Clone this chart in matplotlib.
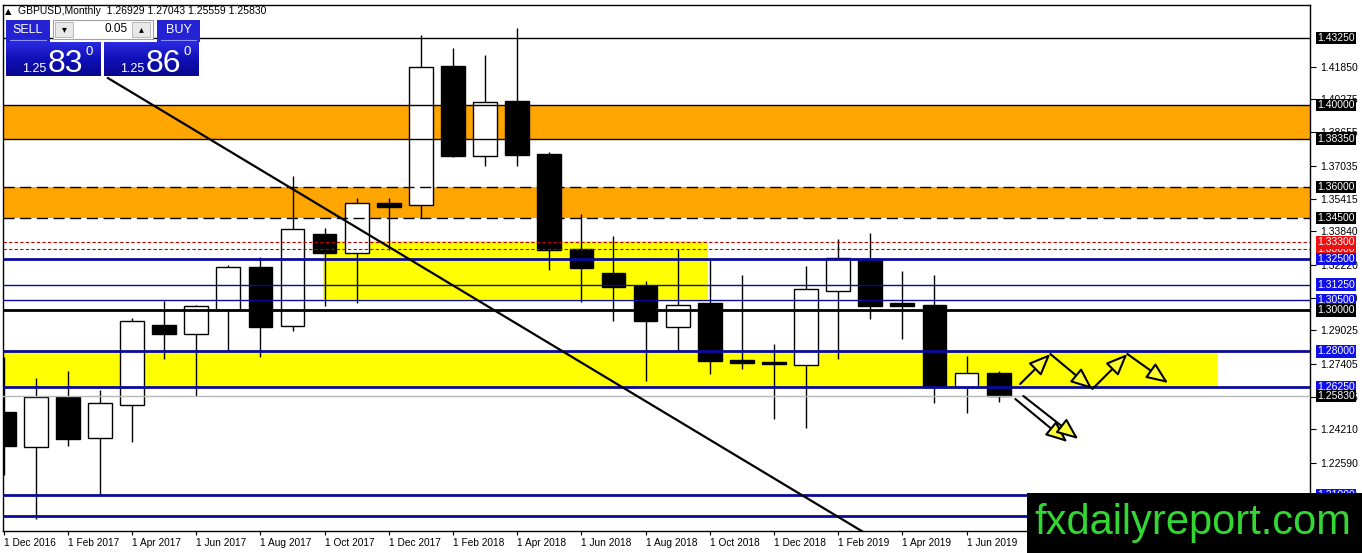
import matplotlib.pyplot as plt
import numpy as np
from matplotlib.patches import Rectangle
from matplotlib.colors import LinearSegmentedColormap

plt.rcParams['font.family'] = ['Liberation Sans', 'DejaVu Sans']

W, H = 1362, 553

# monthly GBPUSD candles, Dec 2016 .. Jul 2019
opens = [1.2505, 1.2335, 1.2578, 1.2378, 1.2539, 1.2928, 1.2885, 1.3000,
         1.3211, 1.2924, 1.3371, 1.3279, 1.3522, 1.3512, 1.4189, 1.3751,
         1.4018, 1.3761, 1.3298, 1.3181, 1.3118, 1.2919, 1.3036, 1.2758,
         1.2748, 1.2734, 1.3094, 1.3250, 1.3036, 1.3026, 1.2627, 1.26929]
highs = [1.2773, 1.2671, 1.2705, 1.2612, 1.2963, 1.3045, 1.3026, 1.3220,
         1.3259, 1.3653, 1.3400, 1.3546, 1.3546, 1.4340, 1.4276, 1.4242,
         1.4374, 1.3770, 1.3469, 1.3362, 1.3143, 1.3298, 1.3254, 1.3172,
         1.2836, 1.3216, 1.3347, 1.3376, 1.3191, 1.3172, 1.2778, 1.27043]
lows = [1.2199, 1.1984, 1.2340, 1.2101, 1.2359, 1.2763, 1.2583, 1.2802,
        1.2773, 1.2899, 1.3021, 1.3036, 1.3293, 1.3449, 1.3746, 1.3702,
        1.3702, 1.3196, 1.3040, 1.2948, 1.2656, 1.2802, 1.2690, 1.2714,
        1.2471, 1.2427, 1.2763, 1.2958, 1.2860, 1.2549, 1.2500, 1.25559]
closes = [1.2340, 1.2578, 1.2374, 1.2549, 1.2948, 1.2885, 1.3021, 1.3211,
          1.2919, 1.3396, 1.3279, 1.3522, 1.3503, 1.4184, 1.3751, 1.4014,
          1.3756, 1.3293, 1.3206, 1.3113, 1.2948, 1.3026, 1.2753, 1.2744,
          1.2739, 1.3104, 1.3254, 1.3021, 1.3021, 1.2627, 1.2695, 1.25830]

date_labels = ['1 Dec 2016', '1 Feb 2017', '1 Apr 2017', '1 Jun 2017', '1 Aug 2017',
               '1 Oct 2017', '1 Dec 2017', '1 Feb 2018', '1 Apr 2018', '1 Jun 2018',
               '1 Aug 2018', '1 Oct 2018', '1 Dec 2018', '1 Feb 2019', '1 Apr 2019',
               '1 Jun 2019']
price_ticks = [1.41850, 1.40275, 1.38655, 1.37035, 1.35415, 1.33840, 1.32220,
               1.30600, 1.29025, 1.27405, 1.25785, 1.24210, 1.22590, 1.20970]

# horizontal levels: (price, colour, width, style)
levels = [(1.4325, 'black', 1, '-'), (1.4000, 'black', 1, '-'), (1.3835, 'black', 1, '-'),
          (1.3600, 'black', 1, (0, (8, 4))), (1.3450, 'black', 1, (0, (8, 4))),
          (1.3330, '#c00000', 0.8, (0, (3, 2))), (1.3300, '#c00000', 0.8, (0, (3, 2))),
          (1.3250, '#0a0a9a', 2, '-'), (1.3125, '#0a0a9a', 1, '-'), (1.3050, '#0a0a9a', 1, '-'),
          (1.3000, 'black', 2, '-'), (1.2800, '#0a0a9a', 2, '-'), (1.2625, '#0a0a9a', 2, '-'),
          (1.2583, '#b8b8b8', 1, '-'), (1.2100, '#0a0a9a', 2, '-'), (1.2000, '#0a0a9a', 2, '-')]
# boxed price labels on the right, in drawing order
box_labels = [(1.4325, 'black'), (1.4000, 'black'), (1.3835, 'black'), (1.3600, 'black'),
              (1.3450, 'black'), (1.3300, '#ee1111'), (1.3330, '#ee1111'), (1.3250, '#1010e8'),
              (1.3125, '#1010e8'), (1.3050, '#1010e8'), (1.3000, 'black'), (1.2800, '#1010e8'),
              (1.2625, '#1010e8'), (1.2583, 'black'), (1.2100, '#1010e8')]
# zones: (x from, x to, price low, price high, colour)
zones = [(-1, 45, 1.3835, 1.4000, '#ffa500'), (-1, 45, 1.3450, 1.3600, '#ffa500'),
         (9.96, 21.95, 1.3053, 1.3338, '#ffff00'), (-1, 37.84, 1.2625, 1.2800, '#ffff00')]
trend_x = [3.25, 28.03]
trend_y = [1.4130, 1.1804]
zig_x = [31.67, 32.61, 33.92, 35.01, 36.28]
zig_y = [1.26413, 1.27873, 1.26170, 1.27873, 1.26462]
down_arrows = [((31.52, 1.25683), (33.14, 1.23591)), ((31.77, 1.25829), (33.48, 1.23737))]

fig = plt.figure(figsize=(W / 100, H / 100), dpi=100)
ax = fig.add_axes([3 / W, 22 / H, 1307 / W, 526 / H])
ax.set_xlim(-0.02, 40.7)
ax.set_ylim(1.19260, 1.44856)

for x0, x1, lo, hi, col in zones:
    ax.add_patch(Rectangle((x0, lo), x1 - x0, hi - lo, facecolor=col, edgecolor='none', zorder=1))

bw = 0.74
for i, (o, h, l, c) in enumerate(zip(opens, highs, lows, closes)):
    ax.vlines(i, l, h, color='black', lw=1, zorder=2)
    bot = min(o, c)
    ht = max(abs(c - o), 0.0004)
    fc = 'white' if c > o else 'black'
    ax.add_patch(Rectangle((i - bw / 2, bot), bw, ht, facecolor=fc, edgecolor='black',
                           lw=1, zorder=2.5))

for lev, col, lw, ls in levels:
    ax.axhline(lev, color=col, lw=lw, ls=ls, zorder=3)

ax.plot(trend_x, trend_y, color='black', lw=1.6, zorder=3.5)

arrow_kw = dict(arrowstyle='-|>,head_length=0.6,head_width=0.25', mutation_scale=22,
                fc='#ffff33', ec='black', lw=1.5, shrinkA=0, shrinkB=0)
for k in range(len(zig_x) - 1):
    ax.annotate('', xy=(zig_x[k + 1], zig_y[k + 1]), xytext=(zig_x[k], zig_y[k]),
                arrowprops=arrow_kw, zorder=4)
for start, end in down_arrows:
    ax.annotate('', xy=end, xytext=start, arrowprops=arrow_kw, zorder=4)

ax.yaxis.tick_right()
ax.set_yticks(price_ticks)
ax.set_yticklabels([f"{t:.5f}" for t in price_ticks])
ax.tick_params(axis='y', labelsize=7.5, length=4, pad=3, width=0.8)
ax.set_xticks(range(0, 31, 2))
ax.set_xticklabels(date_labels)
ax.tick_params(axis='x', labelsize=7.3, length=3, pad=2, width=0.8)
for lab in ax.get_xticklabels():
    lab.set_ha('left')
for sp in ax.spines.values():
    sp.set_linewidth(1)

tr = ax.get_yaxis_transform()
for lev, col in box_labels:
    ax.text(1.0055, lev, f"{lev:.5f}", transform=tr, ha='left', va='center', fontsize=7.5,
            color='white', clip_on=False, zorder=10,
            bbox=dict(boxstyle='square,pad=0.12', fc=col, ec='none'))

# overlay in pixel coords: trade panel, header and logo
ov = fig.add_axes([0, 0, 1, 1], zorder=5)
ov.patch.set_alpha(0)
ov.axis('off')

ov.text(18, 11, 'GBPUSD,Monthly  1.26929 1.27043 1.25559 1.25830', fontsize=7.5,
        ha='left', va='center')
ov.text(8, 12, '\u25b2', fontsize=6, ha='center', va='center', family='DejaVu Sans')

blue_cm = LinearSegmentedColormap.from_list('bl', ['#2a2ae0', '#1010b8', '#08088e'])
grad = np.linspace(0, 1, 40).reshape(-1, 1)
for x0, x1, txt in [(6, 50, 'SELL'), (157, 200, 'BUY')]:
    ov.add_patch(Rectangle((x0, 20), x1 - x0, 22, facecolor='#2323d4', edgecolor='none'))
    ov.text((x0 + x1) / 2, 30, txt, color='white', fontsize=9, ha='center', va='center')
    ov.plot([x0 + 4, x1 - 4], [40, 40], color='#9090ff', lw=0.8)
ov.add_patch(Rectangle((53, 20), 100, 19, facecolor='white', edgecolor='#a0a0a0', lw=0.8))
ov.add_patch(Rectangle((55, 22), 18, 15, facecolor='#e8e8e8', edgecolor='#b0b0b0', lw=0.6))
ov.add_patch(Rectangle((132, 22), 18, 15, facecolor='#e8e8e8', edgecolor='#b0b0b0', lw=0.6))
ov.text(64, 29.5, '\u25be', fontsize=7, ha='center', va='center', family='DejaVu Sans')
ov.text(141, 29.5, '\u25b4', fontsize=7, ha='center', va='center', family='DejaVu Sans')
ov.text(128, 29.5, '0.05', fontsize=8.5, ha='right', va='center')
for x0, x1, big in [(6, 101, '83'), (104, 199, '86')]:
    ov.imshow(grad, extent=[x0, x1, 76, 42], cmap=blue_cm, aspect='auto', zorder=1)
    ov.text(x0 + 16, 72, '1.25', color='white', fontsize=9, ha='left', va='baseline', zorder=2)
    ov.text(x0 + 42, 72, big, color='white', fontsize=23, ha='left', va='baseline', zorder=2)
    ov.text(x0 + 79, 52, '0', color='white', fontsize=9.5, ha='left', va='center', zorder=2)

ov.add_patch(Rectangle((1027, 493), 335, 60, facecolor='black', edgecolor='none', zorder=3))
ov.text(1193, 523, 'fxdailyreport.com', color='#33d633', fontsize=30, ha='center',
        va='center', family=['Liberation Sans Narrow', 'Liberation Sans'], zorder=4)
ov.set_xlim(0, W)
ov.set_ylim(H, 0)

fig.savefig('out.png', dpi=100)
